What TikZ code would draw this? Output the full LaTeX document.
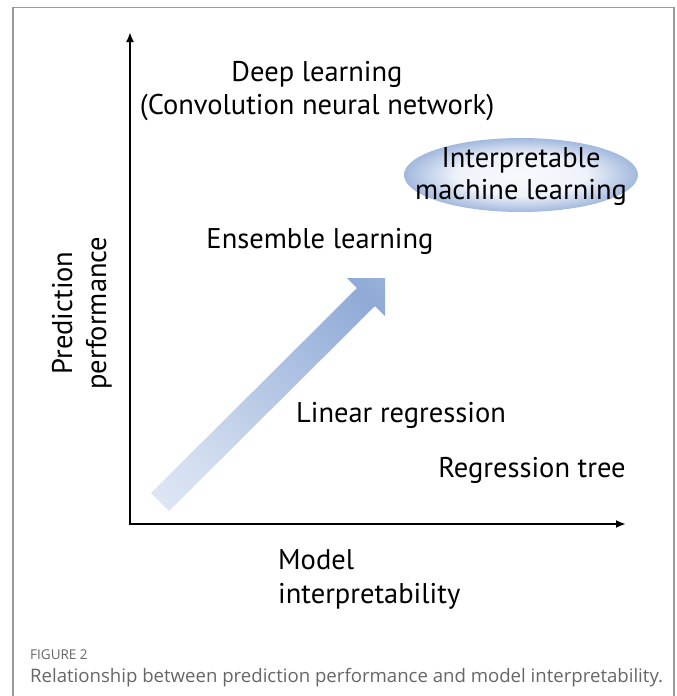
\documentclass[tikz,border=0pt]{standalone}
\usepackage{fontspec}
\setmainfont{PT Sans}
\newfontfamily\captionfont{Open Sans}
\usetikzlibrary{arrows.meta}

\definecolor{framegray}{HTML}{9A9A9A}
\definecolor{capgray}{HTML}{666666}
\definecolor{paleblue}{HTML}{EEF2FA}
\definecolor{midblue}{HTML}{8FAAD6}
\definecolor{tipblue}{HTML}{B4C6E6}

% light at the tail, strongest just behind the head
\pgfdeclareverticalshading{fadearrow}{100bp}{color(0bp)=(paleblue); color(30bp)=(paleblue!70!midblue); color(80bp)=(midblue); color(100bp)=(tipblue)}
% pale middle, blue rim
\pgfdeclareradialshading{softoval}{\pgfpoint{0bp}{0bp}}{color(0bp)=(white!60!paleblue); color(14bp)=(paleblue); color(25bp)=(midblue!80!paleblue); color(50bp)=(midblue)}

\tikzset{
  axisline/.style={line width=2.6pt, {Latex[length=10pt,width=8pt]}-{Latex[length=10pt,width=8pt]}},
  method/.style={font=\fontsize{28.5}{34}\selectfont, inner sep=0pt},
  caption/.style={font=\captionfont, text=capgray, inner sep=0pt, anchor=west},
}

\begin{document}
\begin{tikzpicture}[x=1pt,y=-1pt]
  \useasboundingbox (0,0) rectangle (677,696);
  % figure frame, open at the bottom
  \draw[framegray, line width=1.4pt] (13,696) -- (13,7.5) -- (674,7.5) -- (674,696);

  % axes
  \coordinate (ytop) at (130,32);
  \coordinate (origin) at (130,524);
  \coordinate (xend) at (626,524);
  \draw[axisline] (ytop) -- (origin) -- (xend);

  % broad arrow
  \shade[shading=fadearrow, shading angle=-45]
    (151,493) -- (356.9,288.1) -- (346.8,278) -- (385,278)
    -- (385,316.2) -- (374.9,306.1) -- (169,511) -- cycle;

  % highlighted goal
  \shade[shading=softoval] (521,175) ellipse [x radius=117, y radius=37];
  \node[method, align=center, font=\fontsize{28.5}{32}\selectfont] (iml) at (521,177) {Interpretable\\machine learning};

  % methods
  \node[method] (deep) at (317,74) {Deep learning};
  \node[method] (cnn) at (317,107) {(Convolution neural network)};
  \node[method] (ens) at (320,241) {Ensemble learning};
  \node[method] (lin) at (401,415) {Linear regression};
  \node[method] (tree) at (532,470) {Regression tree};

  % axis titles
  \node[method, rotate=90, align=center] (perf) at (82,313) {Prediction\\performance};
  \node[method, align=left, anchor=west] (interp) at (278,579) {Model\\interpretability};

  % caption
  \node[caption, font=\captionfont\fontsize{13.5}{15}\selectfont] (fig) at (30,655) {FIGURE 2};
  \node[caption, font=\captionfont\fontsize{18.6}{20}\selectfont] (capt) at (30,678)
    {Relationship between prediction performance and model interpretability.};
\end{tikzpicture}
\end{document}
